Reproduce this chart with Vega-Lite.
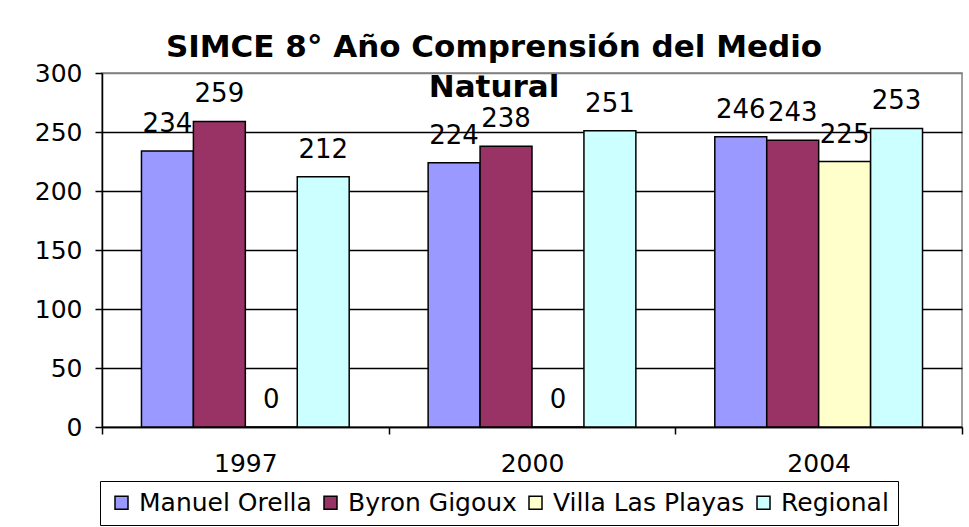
{
  "$schema": "https://vega.github.io/schema/vega-lite/v6.json",
  "width": 860,
  "height": 354,
  "autosize": "none",
  "padding": {"left": 102, "top": 73, "right": 7, "bottom": 100},
  "background": "white",
  "config": {
    "font": "DejaVu Sans",
    "view": {"stroke": "#808080", "strokeWidth": 1.5}
  },
  "title": {
    "text": ["SIMCE 8° Año Comprensión del Medio", "Natural"],
    "fontSize": 31,
    "fontWeight": "bold",
    "font": "DejaVu Sans",
    "color": "black",
    "anchor": "middle",
    "frame": "group",
    "dx": -38,
    "offset": -43,
    "lineHeight": 40
  },
  "data": {
    "values": [
      {"year": "1997", "school": "Manuel Orella", "score": 234},
      {"year": "1997", "school": "Byron Gigoux", "score": 259},
      {"year": "1997", "school": "Villa Las Playas", "score": 0},
      {"year": "1997", "school": "Regional", "score": 212},
      {"year": "2000", "school": "Manuel Orella", "score": 224},
      {"year": "2000", "school": "Byron Gigoux", "score": 238},
      {"year": "2000", "school": "Villa Las Playas", "score": 0},
      {"year": "2000", "school": "Regional", "score": 251},
      {"year": "2004", "school": "Manuel Orella", "score": 246},
      {"year": "2004", "school": "Byron Gigoux", "score": 243},
      {"year": "2004", "school": "Villa Las Playas", "score": 225},
      {"year": "2004", "school": "Regional", "score": 253}
    ]
  },
  "encoding": {
    "x": {
      "field": "year",
      "type": "nominal",
      "scale": {"paddingInner": 0, "paddingOuter": 0},
      "axis": {
        "title": null,
        "labelAngle": 0,
        "labelFontSize": 25,
        "labelColor": "black",
        "labelPadding": 17,
        "tickBand": "extent",
        "tickSize": 7,
        "tickColor": "black",
        "tickWidth": 1.5,
        "domainColor": "black",
        "domainWidth": 1.5,
        "grid": false
      }
    },
    "xOffset": {
      "field": "school",
      "type": "nominal",
      "sort": ["Manuel Orella", "Byron Gigoux", "Villa Las Playas", "Regional"],
      "scale": {"paddingInner": 0, "paddingOuter": 0.76}
    },
    "y": {
      "field": "score",
      "type": "quantitative",
      "scale": {"domain": [0, 300]},
      "axis": {
        "title": null,
        "values": [0, 50, 100, 150, 200, 250, 300],
        "labelFontSize": 25,
        "labelColor": "black",
        "labelPadding": 13,
        "tickSize": 7,
        "tickColor": "black",
        "tickWidth": 1.5,
        "domainColor": "black",
        "domainWidth": 1.5,
        "grid": true,
        "gridColor": {"condition": {"test": "datum.value === 300", "value": "#808080"}, "value": "black"},
        "gridWidth": 1.5
      }
    }
  },
  "layer": [
    {
      "mark": {"type": "bar", "stroke": "black", "strokeWidth": 1.5},
      "encoding": {
        "color": {
          "field": "school",
          "type": "nominal",
          "sort": ["Manuel Orella", "Byron Gigoux", "Villa Las Playas", "Regional"],
          "scale": {
            "domain": ["Manuel Orella", "Byron Gigoux", "Villa Las Playas", "Regional"],
            "range": ["#9999FF", "#993366", "#FFFFCC", "#CCFFFF"]
          },
          "legend": {
            "title": null,
            "orient": "none",
            "legendX": -2,
            "legendY": 408,
            "direction": "horizontal",
            "symbolType": "square",
            "symbolSize": 169,
            "symbolStrokeColor": "black",
            "symbolStrokeWidth": 1.5,
            "labelFontSize": 25,
            "labelColor": "black",
            "labelLimit": 0,
            "labelOffset": 5,
            "columnPadding": 6,
            "strokeColor": "black",
            "padding": 9
          }
        }
      }
    },
    {
      "mark": {"type": "text", "baseline": "alphabetic", "dy": -19, "fontSize": 26, "color": "black"},
      "encoding": {"text": {"field": "score", "type": "quantitative"}}
    }
  ]
}
